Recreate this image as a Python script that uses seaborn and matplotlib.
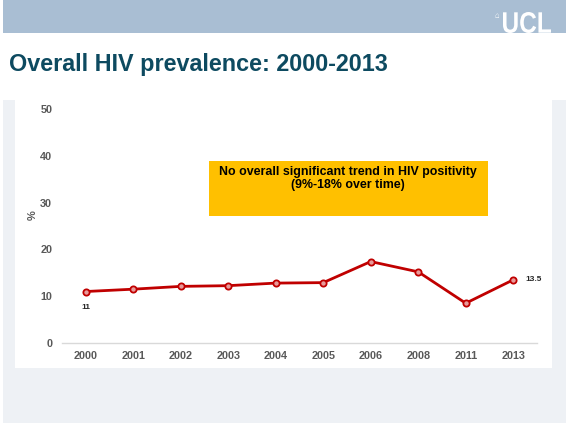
import matplotlib
matplotlib.use("Agg")
import matplotlib.pyplot as plt
import seaborn as sns
import pandas as pd
from matplotlib.patches import Rectangle, PathPatch
from matplotlib.textpath import TextPath
from matplotlib.font_manager import FontProperties
from matplotlib.transforms import Affine2D

years = ["2000", "2001", "2002", "2003", "2004", "2005", "2006", "2008", "2011", "2013"]
prevalence = [11.0, 11.5, 12.1, 12.25, 12.8, 12.9, 17.4, 15.2, 8.5, 13.5]
y_ticks = [0, 10, 20, 30, 40, 50]
title = "Overall HIV prevalence: 2000-2013"
note_lines = ["No overall significant trend in HIV positivity", "(9%-18% over time)"]

sns.set_theme(style="white")
plt.rcParams['font.family'] = ['Liberation Sans', 'DejaVu Sans']

W, H = 566, 423
fig = plt.figure(figsize=(W / 100, H / 100), dpi=100)
fig.patch.set_facecolor("white")

def px_rect(x0, y0, x1, y1, color, z=-10):
    fig.patches.append(Rectangle((x0 / W, 1 - y1 / H), (x1 - x0) / W, (y1 - y0) / H,
                                 transform=fig.transFigure, facecolor=color,
                                 edgecolor="none", zorder=z))

# slide decoration
px_rect(3, 0, 566, 33, "#a9bed3", z=-10)
px_rect(3, 100, 566, 423, "#eef1f5", z=-9)
px_rect(15, 100, 552, 368, "white", z=-8)

# condensed "UCL" logo text drawn as a scaled text path
tp = TextPath((0, 0), "UCL", size=1,
              prop=FontProperties(family="Liberation Sans", weight="bold"))
ext = tp.get_extents()
sx = (48 / W) / ext.width
sy = (21 / H) / ext.height
tr = Affine2D().translate(-ext.x0, -ext.y0).scale(sx, sy).translate(503 / W, 1 - 33 / H)
fig.patches.append(PathPatch(tp, transform=tr + fig.transFigure, facecolor="white",
                             edgecolor="none", zorder=-5))
fig.text(497 / W, 1 - 17 / H, "⌂", color="white", fontsize=5.5, ha="center", va="center")
fig.text(9 / W, 1 - 64 / H, title, color="#0d4a60", fontsize=16.8, fontweight="bold",
         ha="left", va="center")

# chart axes
ax = fig.add_axes([62 / W, 80 / H, (537 - 62) / W, (343 - 109) / H], zorder=2)
ax.set_facecolor("none")
df = pd.DataFrame({"year": years, "pct": prevalence})
sns.lineplot(data=df, x="year", y="pct", ax=ax, color="#c00000", linewidth=2,
             marker="o", markersize=4.5, markeredgecolor="#c00000",
             markerfacecolor="#e89a9a", markeredgewidth=1.3, sort=False)
ax.set_xlim(-0.5, len(years) - 0.5)
ax.set_ylim(0, 50)
ax.set_yticks(y_ticks)
for s in ["top", "right", "left"]:
    ax.spines[s].set_visible(False)
ax.spines["bottom"].set_color("#d9d9d9")
ax.spines["bottom"].set_linewidth(1)
ax.tick_params(axis="both", length=0, labelsize=7.8, labelcolor="#595959")
ax.tick_params(axis="y", pad=7)
ax.tick_params(axis="x", pad=6)
for lab in ax.get_xticklabels() + ax.get_yticklabels():
    lab.set_fontweight("bold")
ax.set_xlabel("")
ax.set_ylabel("%", fontsize=8, fontweight="bold", color="#595959")
ax.yaxis.set_label_coords(-0.05, 0.547)
ax.grid(False)

# data labels
ax.annotate(f"{prevalence[0]:g}", (0, prevalence[0]), xytext=(0, -11.5),
            textcoords="offset points", ha="center", va="center",
            fontsize=6, fontweight="bold", color="#262626")
ax.annotate(f"{prevalence[-1]:g}", (len(years) - 1, prevalence[-1]), xytext=(9, 0),
            textcoords="offset points", ha="left", va="center",
            fontsize=6, fontweight="bold", color="#262626")

# note box
px_rect(209, 161, 488, 216, "#ffc000", z=5)
for i, line in enumerate(note_lines):
    fig.text(348 / W, 1 - (172 + 12.5 * i) / H, line, ha="center", va="center",
             fontsize=8.9, fontweight="bold", color="black", zorder=6)

fig.savefig("out.png", dpi=100)
